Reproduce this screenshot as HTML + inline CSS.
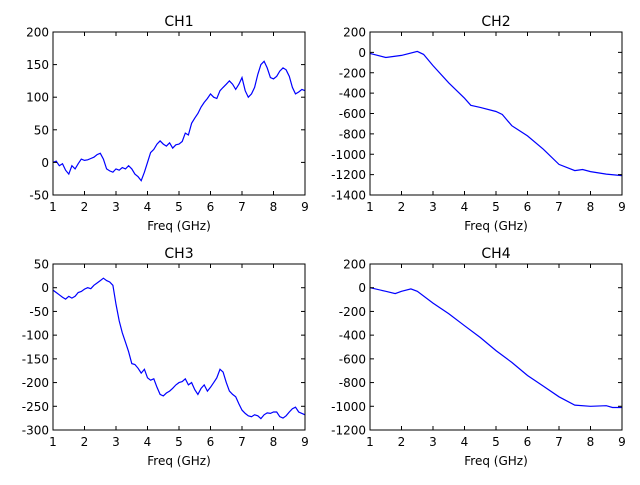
<!DOCTYPE html>
<html><head><meta charset="utf-8"><style>
body{margin:0;background:#fff;}
svg text{font-family:"DejaVu Sans","Liberation Sans",sans-serif;}
</style></head><body>
<svg id="fig" width="640" height="480" xmlns="http://www.w3.org/2000/svg"></svg>
<script>
const ch1X = [];
for (let i = 0; i <= 80; i++) ch1X.push(1 + i * 0.1);
const ch1Y = [0,2,-5,-2,-12,-18,-5,-10,-2,5,3,4,6,8,12,14,5,-10,-13,-15,-10,-12,-8,-10,-5,-10,-18,-22,-28,-15,0,15,20,28,33,28,25,30,22,27,28,32,45,42,60,68,75,85,92,98,105,100,98,110,115,120,125,120,112,120,130,110,100,105,115,135,150,155,145,130,128,132,140,145,142,132,115,105,108,112,110];
const ch3Y = [-5,-10,-15,-20,-24,-18,-22,-18,-10,-8,-3,0,-2,5,10,15,20,15,12,5,-35,-70,-95,-115,-135,-160,-162,-170,-180,-172,-190,-195,-192,-210,-225,-228,-222,-218,-212,-205,-200,-198,-192,-205,-200,-215,-225,-212,-205,-218,-210,-200,-190,-172,-178,-200,-218,-225,-230,-245,-258,-265,-270,-272,-268,-270,-276,-268,-264,-265,-262,-262,-272,-275,-270,-262,-255,-252,-262,-265,-268];
const ch2X = [1.0,1.5,2.0,2.5,2.7,3.0,3.5,4.0,4.2,4.5,5.0,5.2,5.5,6.0,6.5,7.0,7.5,7.75,8.0,8.5,9.0];
const ch2Y = [-10,-50,-30,10,-20,-130,-300,-450,-520,-540,-580,-610,-720,-820,-950,-1100,-1160,-1150,-1170,-1195,-1210];
const ch4X = [1.0,1.5,1.8,2.0,2.3,2.5,3.0,3.5,4.0,4.5,5.0,5.5,6.0,6.5,7.0,7.5,8.0,8.5,8.7,9.0];
const ch4Y = [0,-30,-50,-30,-10,-30,-130,-220,-320,-420,-530,-630,-740,-830,-920,-990,-1000,-995,-1010,-1010];
const xTicks = [1,2,3,4,5,6,7,8,9];
const ch1Ticks = [-50,0,50,100,150,200];
const ch2Ticks = [-1400,-1200,-1000,-800,-600,-400,-200,0,200];
const ch3Ticks = [-300,-250,-200,-150,-100,-50,0,50];
const ch4Ticks = [-1200,-1000,-800,-600,-400,-200,0,200];

const NS = "http://www.w3.org/2000/svg";
const fig = document.getElementById('fig');
function mk(tag, attrs, parent) {
  const e = document.createElementNS(NS, tag);
  for (const k in attrs) e.setAttribute(k, attrs[k]);
  parent.appendChild(e);
  return e;
}
function panel(name, title, box, xs, ys, yTicks) {
  const [L, T, R, B] = box;
  const g = mk('g', {}, fig);
  
  
  const ymin = yTicks[0], ymax = yTicks[yTicks.length - 1];
  const sx = v => L + (v - 1) / 8 * (R - L);
  const sy = v => B - (v - ymin) / (ymax - ymin) * (B - T);
  let d = '';
  xs.forEach((x, i) => { d += (i ? 'L' : 'M') + sx(x).toFixed(1) + ' ' + sy(ys[i]).toFixed(1); });
  const line = mk('path', {d: d, fill: 'none', stroke: '#0000ff', 'stroke-width': 1.2}, g);
  
  
  xTicks.forEach(t => {
    const x = sx(t);
    mk('line', {x1: x, x2: x, y1: B, y2: B - 4, stroke: '#000'}, g);
    mk('line', {x1: x, x2: x, y1: T, y2: T + 4, stroke: '#000'}, g);
    const lb = mk('text', {x: x, y: B + 16, 'font-size': 12, 'text-anchor': 'middle'}, g);
    lb.textContent = t;
    
    
  });
  yTicks.forEach(t => {
    const y = sy(t);
    mk('line', {x1: L, x2: L + 4, y1: y, y2: y, stroke: '#000'}, g);
    mk('line', {x1: R, x2: R - 4, y1: y, y2: y, stroke: '#000'}, g);
    const lb = mk('text', {x: L - 4, y: y + 4.5, 'font-size': 12, 'text-anchor': 'end'}, g);
    lb.textContent = t;
    
    
  });
  const fr = mk('rect', {x: L, y: T, width: R - L, height: B - T, fill: 'none', stroke: '#000', 'stroke-width': 1}, g);
  
  
  const tt = mk('text', {x: (L + R) / 2, y: T - 6, 'font-size': 14, 'text-anchor': 'middle'}, g);
  tt.textContent = title;
  
  
  const xl = mk('text', {x: (L + R) / 2, y: B + 35, 'font-size': 12, 'text-anchor': 'middle'}, g);
  xl.textContent = 'Freq (GHz)';
  
  
}
panel('ch1', 'CH1', [53, 32, 305, 195], ch1X, ch1Y, ch1Ticks);
panel('ch2', 'CH2', [370, 32, 622, 195], ch2X, ch2Y, ch2Ticks);
panel('ch3', 'CH3', [53, 264, 305, 430], ch1X, ch3Y, ch3Ticks);
panel('ch4', 'CH4', [370, 264, 622, 430], ch4X, ch4Y, ch4Ticks);
</script>
</body></html>
